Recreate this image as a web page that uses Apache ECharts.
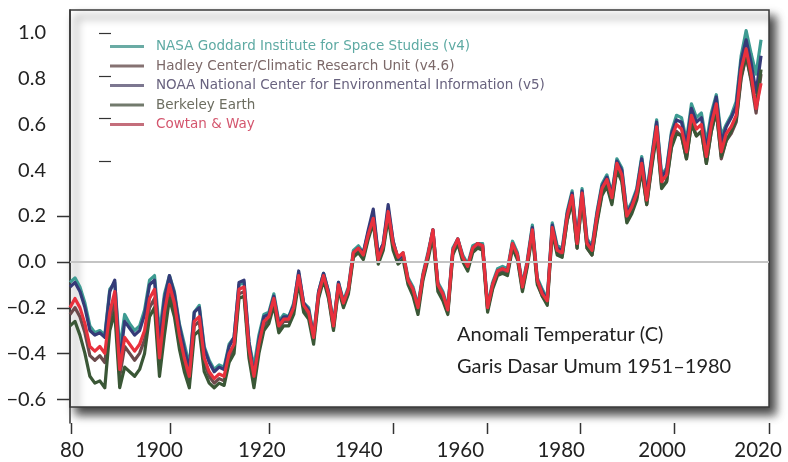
<!DOCTYPE html>
<html><head><meta charset="utf-8">
<script src="https://cdn.jsdelivr.net/npm/echarts@6/dist/echarts.min.js"></script>
<style>html,body{margin:0;padding:0;background:#fff}#c{width:788px;height:462px}</style>
</head><body><div id="c"></div>
<script>
// ---- data ----
const startYear = 1880;
const seriesNames = [
  'NASA Goddard Institute for Space Studies (v4)',
  'Hadley Center/Climatic Research Unit (v4.6)',
  'NOAA National Center for Environmental Information (v5)',
  'Berkeley Earth',
  'Cowtan & Way'
];
const nasa = [
  -0.09,-0.07,-0.11,-0.18,-0.28,-0.31,-0.30,-0.32,-0.12,-0.09,
  -0.38,-0.23,-0.27,-0.30,-0.28,-0.21,-0.08,-0.06,-0.31,-0.14,
  -0.06,-0.13,-0.27,-0.36,-0.45,-0.22,-0.19,-0.37,-0.43,-0.47,
  -0.45,-0.46,-0.36,-0.33,-0.10,-0.09,-0.35,-0.46,-0.32,-0.23,
  -0.22,-0.14,-0.26,-0.23,-0.24,-0.18,-0.05,-0.18,-0.20,-0.32,
  -0.13,-0.05,-0.13,-0.27,-0.09,-0.17,-0.11,0.05,0.07,0.04,
  0.13,0.21,0.03,0.08,0.23,0.09,0.01,0.04,-0.07,-0.11,
  -0.19,-0.05,0.04,0.14,-0.09,-0.13,-0.20,0.06,0.10,0.03,
  -0.01,0.07,0.08,0.08,-0.19,-0.09,-0.03,-0.02,-0.03,0.09,
  0.04,-0.10,0.01,0.16,-0.07,-0.12,-0.16,0.17,0.07,0.06,
  0.22,0.31,0.10,0.32,0.10,0.07,0.22,0.34,0.38,0.30,
  0.45,0.41,0.22,0.26,0.32,0.46,0.30,0.46,0.62,0.38,
  0.41,0.57,0.64,0.63,0.53,0.69,0.63,0.65,0.52,0.65,
  0.73,0.55,0.60,0.64,0.70,0.90,1.01,0.91,0.82,0.97
];
const hadley = [
  -0.23,-0.20,-0.24,-0.31,-0.41,-0.43,-0.41,-0.44,-0.26,-0.17,
  -0.50,-0.37,-0.40,-0.43,-0.40,-0.34,-0.20,-0.16,-0.45,-0.26,
  -0.12,-0.20,-0.34,-0.44,-0.52,-0.28,-0.26,-0.44,-0.50,-0.53,
  -0.51,-0.52,-0.42,-0.38,-0.14,-0.13,-0.40,-0.52,-0.38,-0.28,
  -0.25,-0.17,-0.29,-0.26,-0.26,-0.21,-0.07,-0.20,-0.23,-0.34,
  -0.15,-0.07,-0.15,-0.29,-0.11,-0.19,-0.13,0.03,0.05,0.02,
  0.11,0.18,0.00,0.06,0.21,0.07,0.01,0.03,-0.09,-0.13,
  -0.21,-0.07,0.02,0.13,-0.11,-0.15,-0.22,0.04,0.09,0.01,
  -0.03,0.05,0.07,0.06,-0.21,-0.11,-0.05,-0.04,-0.05,0.07,
  0.02,-0.12,-0.01,0.13,-0.09,-0.15,-0.18,0.14,0.04,0.03,
  0.18,0.27,0.06,0.28,0.06,0.03,0.18,0.30,0.34,0.26,
  0.41,0.36,0.18,0.22,0.28,0.41,0.25,0.42,0.57,0.33,
  0.35,0.51,0.57,0.55,0.45,0.61,0.55,0.57,0.43,0.57,
  0.66,0.45,0.53,0.56,0.61,0.80,0.90,0.79,0.65,0.82
];
const noaa = [
  -0.11,-0.09,-0.13,-0.20,-0.30,-0.32,-0.31,-0.33,-0.13,-0.08,
  -0.44,-0.26,-0.29,-0.32,-0.30,-0.23,-0.10,-0.08,-0.36,-0.16,
  -0.06,-0.14,-0.28,-0.38,-0.47,-0.22,-0.20,-0.38,-0.44,-0.48,
  -0.46,-0.47,-0.37,-0.33,-0.09,-0.08,-0.35,-0.50,-0.34,-0.24,
  -0.23,-0.15,-0.27,-0.24,-0.24,-0.19,-0.04,-0.18,-0.21,-0.33,
  -0.13,-0.05,-0.13,-0.28,-0.09,-0.18,-0.12,0.04,0.06,0.04,
  0.14,0.23,0.03,0.08,0.25,0.09,0.01,0.03,-0.08,-0.12,
  -0.20,-0.06,0.03,0.14,-0.10,-0.14,-0.21,0.05,0.10,0.02,
  -0.02,0.06,0.08,0.07,-0.20,-0.10,-0.04,-0.03,-0.04,0.08,
  0.03,-0.11,0.00,0.15,-0.08,-0.13,-0.17,0.16,0.06,0.05,
  0.21,0.30,0.09,0.31,0.09,0.06,0.21,0.33,0.37,0.29,
  0.44,0.40,0.21,0.25,0.31,0.45,0.29,0.45,0.61,0.37,
  0.40,0.56,0.62,0.61,0.51,0.67,0.61,0.63,0.49,0.63,
  0.72,0.52,0.59,0.63,0.68,0.88,0.97,0.87,0.74,0.90
];
const berkeley = [
  -0.28,-0.26,-0.32,-0.40,-0.50,-0.53,-0.52,-0.55,-0.30,-0.22,
  -0.55,-0.46,-0.48,-0.50,-0.47,-0.40,-0.24,-0.20,-0.50,-0.32,
  -0.16,-0.24,-0.38,-0.48,-0.55,-0.32,-0.30,-0.48,-0.53,-0.55,
  -0.53,-0.54,-0.44,-0.40,-0.16,-0.15,-0.42,-0.55,-0.40,-0.30,
  -0.27,-0.19,-0.31,-0.28,-0.28,-0.23,-0.09,-0.22,-0.25,-0.36,
  -0.16,-0.08,-0.16,-0.30,-0.12,-0.20,-0.14,0.02,0.04,0.01,
  0.10,0.17,-0.01,0.05,0.19,0.05,-0.01,0.01,-0.10,-0.15,
  -0.23,-0.08,0.01,0.11,-0.13,-0.17,-0.23,0.03,0.08,0.00,
  -0.04,0.04,0.06,0.05,-0.22,-0.12,-0.06,-0.05,-0.06,0.06,
  0.01,-0.13,-0.02,0.12,-0.10,-0.15,-0.19,0.13,0.03,0.02,
  0.18,0.26,0.06,0.27,0.06,0.03,0.17,0.29,0.33,0.25,
  0.40,0.35,0.17,0.21,0.27,0.40,0.25,0.41,0.56,0.32,
  0.35,0.50,0.56,0.55,0.45,0.60,0.55,0.57,0.43,0.57,
  0.66,0.46,0.53,0.57,0.62,0.81,0.90,0.80,0.68,0.84
];
const cowtanWay = [
  -0.20,-0.16,-0.20,-0.27,-0.37,-0.39,-0.37,-0.40,-0.22,-0.13,
  -0.47,-0.33,-0.36,-0.39,-0.36,-0.30,-0.16,-0.12,-0.42,-0.22,
  -0.10,-0.18,-0.32,-0.42,-0.50,-0.26,-0.24,-0.42,-0.48,-0.51,
  -0.49,-0.50,-0.40,-0.36,-0.12,-0.11,-0.38,-0.50,-0.36,-0.26,
  -0.24,-0.16,-0.28,-0.25,-0.25,-0.20,-0.06,-0.19,-0.22,-0.33,
  -0.14,-0.06,-0.14,-0.28,-0.10,-0.18,-0.12,0.04,0.06,0.03,
  0.12,0.19,0.01,0.07,0.22,0.08,0.02,0.04,-0.08,-0.12,
  -0.20,-0.06,0.03,0.14,-0.10,-0.14,-0.21,0.05,0.10,0.02,
  -0.02,0.06,0.08,0.07,-0.20,-0.10,-0.04,-0.03,-0.04,0.08,
  0.03,-0.11,0.00,0.14,-0.08,-0.14,-0.17,0.15,0.05,0.04,
  0.20,0.29,0.08,0.30,0.08,0.05,0.20,0.32,0.36,0.28,
  0.43,0.38,0.20,0.24,0.30,0.43,0.27,0.44,0.59,0.35,
  0.38,0.54,0.60,0.58,0.48,0.64,0.58,0.60,0.46,0.60,
  0.69,0.48,0.56,0.59,0.64,0.84,0.93,0.82,0.67,0.78
];
const yLabelValues = [-0.6, -0.4, -0.2, 0, 0.2, 0.4, 0.6, 0.8, 1.0];
const yTickValues = [-0.6, -0.4, -0.2, 0, 0.2];
const xLabels = ['80', '1900', '1920', '1940', '1960', '1980', '2000', '2020'];
const xLabelAt = [1880.4, 1897.9, 1918.6, 1938.1, 1958.5, 1978.8, 1999.1, 2018.4];
const xTickAt = [1880.2, 1900.1, 1920.0, 1945.0, 1963.9, 1982.6, 2001.5, 2020.5];
const noteLines = ['Anomali Temperatur (C)', 'Garis Dasar Umum 1951\u20131980'];
const innerMarkValues = [1.0, 0.81, 0.63, 0.44];

// ---- build ----
const toPairs = arr => arr.map((v, i) => [startYear + i, v]);
const colors = ['#3d9b92', '#6b4a4c', '#353b78', '#3a5736', '#e8313d'];
const legendTextColors = ['#5eaaa3', '#7b6868', '#69637f', '#6c6d60', '#d4566e'];
const legendIconColors = ['#6aaba4', '#857272', '#7c7790', '#727a6c', '#c46e7b'];
const allData = [nasa, hadley, noaa, berkeley, cowtanWay];

const chart = echarts.init(document.getElementById('c'), null, {renderer: 'canvas'});
const AXIS = '#333';
const series = [{
  type: 'line', name: 'zero', data: [], z: 1, silent: true,
  markLine: {
    silent: true, symbol: 'none', label: {show: false},
    lineStyle: {color: '#c4c4c4', width: 2, type: 'solid'},
    data: [{yAxis: 0}]
  }
}];
// draw order: Berkeley, Hadley, NASA, NOAA, Cowtan & Way on top
[3, 1, 0, 2, 4].forEach(k => {
  series.push({
    type: 'line', name: seriesNames[k], data: toPairs(allData[k]),
    showSymbol: false, symbol: 'none', z: 2 + k * 0.1,
    lineStyle: {width: 3.2, color: colors[k], join: 'round'},
    itemStyle: {color: colors[k]},
    emphasis: {disabled: true}
  });
});

const graphics = [
  {type: 'rect', z: -10, silent: true,
   shape: {x: 70, y: 10, width: 699, height: 397},
   style: {fill: '#fff', stroke: '#3a3a3a', lineWidth: 1.5,
           shadowBlur: 9, shadowOffsetX: 6, shadowOffsetY: 7, shadowColor: 'rgba(0,0,0,0.75)'}},
  {type: 'text', z: 5, left: 457, top: 325, silent: true,
   style: {text: noteLines[0], fontFamily: 'Lato', fontSize: 20, fill: '#222'}},
  {type: 'text', z: 5, left: 457, top: 357, silent: true,
   style: {text: noteLines[1], fontFamily: 'Lato', fontSize: 20, fill: '#222'}}
];

chart.setOption({
  animation: false,
  backgroundColor: '#fff',
  grid: {left: 70, right: 19, top: 10, bottom: 39, containLabel: false},
  legend: {
    orient: 'vertical', left: 105, top: 34, itemGap: 4.5,
    itemWidth: 34, itemHeight: 3, icon: 'rect',
    textStyle: {fontFamily: 'DejaVu Sans', fontSize: 13.5, lineHeight: 15, padding: [0, 0, 0, 7]},
    data: seriesNames.map((n, k) => ({
      name: n,
      textStyle: {color: legendTextColors[k]},
      itemStyle: {color: legendIconColors[k]}
    }))
  },
  xAxis: {
    type: 'value', min: 1880, max: 2020.6,
    axisLine: {show: true, lineStyle: {color: AXIS, width: 1.5}},
    axisTick: {show: false},
    axisLabel: {
      customValues: xLabelAt, margin: 17, hideOverlap: false,
      alignMinLabel: 'center', alignMaxLabel: 'center',
      fontFamily: 'Lato', fontSize: 20.5, color: '#222',
      formatter: v => xLabels[xLabelAt.indexOf(v)]
    },
    splitLine: {show: false}
  },
  yAxis: {
    type: 'value', min: -0.704, max: 1.1,
    axisLine: {show: true, lineStyle: {color: AXIS, width: 1.5}},
    axisTick: {show: false},
    axisLabel: {
      customValues: yLabelValues, margin: 24,
      fontFamily: 'Lato', fontSize: 20, color: '#222',
      formatter: v => (v < 0 ? '\u2212' : '') + Math.abs(v).toFixed(1)
    },
    splitLine: {show: false}
  },
  graphic: graphics,
  series: series
});

// axis ticks placed through the chart's own scales
const origin = chart.convertToPixel({gridIndex: 0}, [1880, -0.704]);
const tickStyle = {stroke: AXIS, lineWidth: 1.5};
xTickAt.forEach(v => {
  const px = Math.round(chart.convertToPixel({xAxisIndex: 0}, v)) + 0.5;
  graphics.push({type: 'line', z: 5, silent: true,
    shape: {x1: px, y1: origin[1], x2: px, y2: origin[1] + 11}, style: tickStyle});
});
yTickValues.forEach(v => {
  const py = Math.round(chart.convertToPixel({yAxisIndex: 0}, v)) + 0.5;
  graphics.push({type: 'line', z: 5, silent: true,
    shape: {x1: origin[0] - 13, y1: py, x2: origin[0], y2: py}, style: tickStyle});
});
// short marks inside the framed plot
innerMarkValues.forEach(v => {
  const py = Math.round(chart.convertToPixel({yAxisIndex: 0}, v)) + 0.5;
  graphics.push({type: 'line', z: 5, silent: true,
    shape: {x1: 99, y1: py, x2: 111, y2: py}, style: {stroke: '#333', lineWidth: 1.2}});
});
chart.setOption({graphic: graphics});
</script>
</body></html>
